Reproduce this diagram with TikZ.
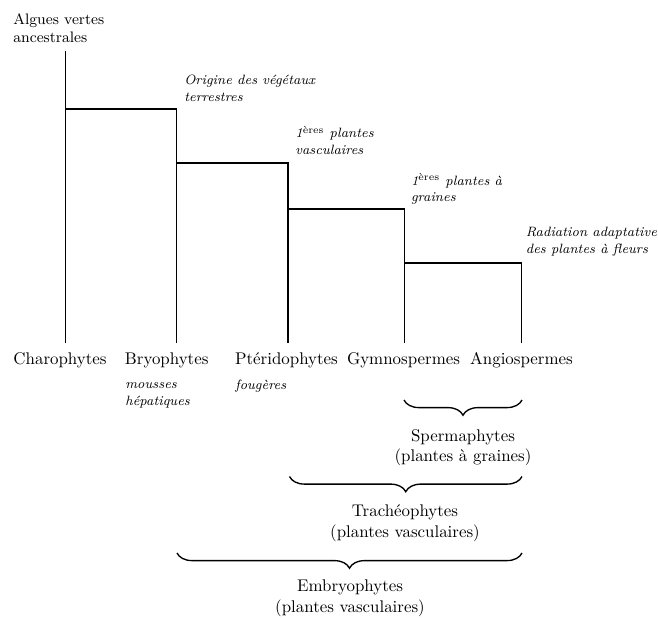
\documentclass[tikz,border=0pt]{standalone}
\usetikzlibrary{decorations.pathreplacing}
\begin{document}
\begin{tikzpicture}[x=0.592pt, y=-0.592pt,
  branch/.style={line width=0.8pt},
  taxon/.style={anchor=base, inner xsep=0pt, inner ysep=5.4pt,
    text height=7pt, text depth=2pt},
  subnote/.style={anchor=base west, inner sep=0pt, align=left,
    font=\footnotesize\itshape},
  event/.style={anchor=base west, inner sep=0pt, align=left,
    font=\footnotesize\itshape},
  group/.style={anchor=base, inner sep=0pt, align=center},
  groupbrace/.style={line width=0.8pt,
    decorate, decoration={brace, amplitude=9pt}}]
\useasboundingbox (0,0) rectangle (658,618);

% ancestor
\node[anchor=base west, inner sep=0pt, align=left, font=\small]
  (ancestor) at (13,42.7) {Algues vertes\\ancestrales};

% branching points of the tree
\coordinate (root) at (65.7,51);
\coordinate (j1) at (65.7,109);
\coordinate (j2) at (176.7,163);
\coordinate (j3) at (288,209);
\coordinate (j4) at (404.3,263);

% terminal taxa
\node[taxon] (charo) at (60,364) {Charophytes};
\node[taxon] (bryo)  at (166.7,364) {Bryophytes};
\node[taxon] (pter)  at (286.5,364) {Ptéridophytes};
\node[taxon] (gymno) at (403.5,364) {Gymnospermes};
\node[taxon] (angio) at (521.5,364) {Angiospermes};

\node[subnote] (bryonote) at (125,405) {mousses\\hépatiques};
\node[subnote] (pternote) at (235,389) {fougères};

% events along the tree
\node[event] (ev1) at (184,101) {Origine des végétaux\\terrestres};
\node[event] (ev2) at (295,154) {1\textsuperscript{\upshape ères} plantes\\vasculaires};
\node[event] (ev3) at (410.7,201.7) {1\textsuperscript{\upshape ères} plantes à\\graines};
\node[event] (ev4) at (525.5,253) {Radiation adaptative\\des plantes à fleurs};

% tree
\draw[branch] (root) -- (root |- charo.north);
\draw[branch] (j1) -| (j2 |- bryo.north);
\draw[branch] (j2) -| (j3 |- pter.north);
\draw[branch] (j3) -| (j4 |- gymno.north);
\draw[branch] (j4) -| (angio.north);

% groups
\coordinate (sp-r) at (522,400);
\coordinate (sp-l) at (404,400);
\coordinate (tr-r) at (522,476.5);
\coordinate (tr-l) at (289.5,476.5);
\coordinate (em-r) at (522,553);
\coordinate (em-l) at (177,553);

\draw[groupbrace] (sp-r) -- (sp-l);
\draw[groupbrace] (tr-r) -- (tr-l);
\draw[groupbrace] (em-r) -- (em-l);

\node[group] (sperma) at (463,461.7) {Spermaphytes\\(plantes à graines)};
\node[group] (tracheo) at (405,537) {Trachéophytes\\(plantes vasculaires)};
\node[group] (embryo) at (350,612) {Embryophytes\\(plantes vasculaires)};
\end{tikzpicture}
\end{document}
